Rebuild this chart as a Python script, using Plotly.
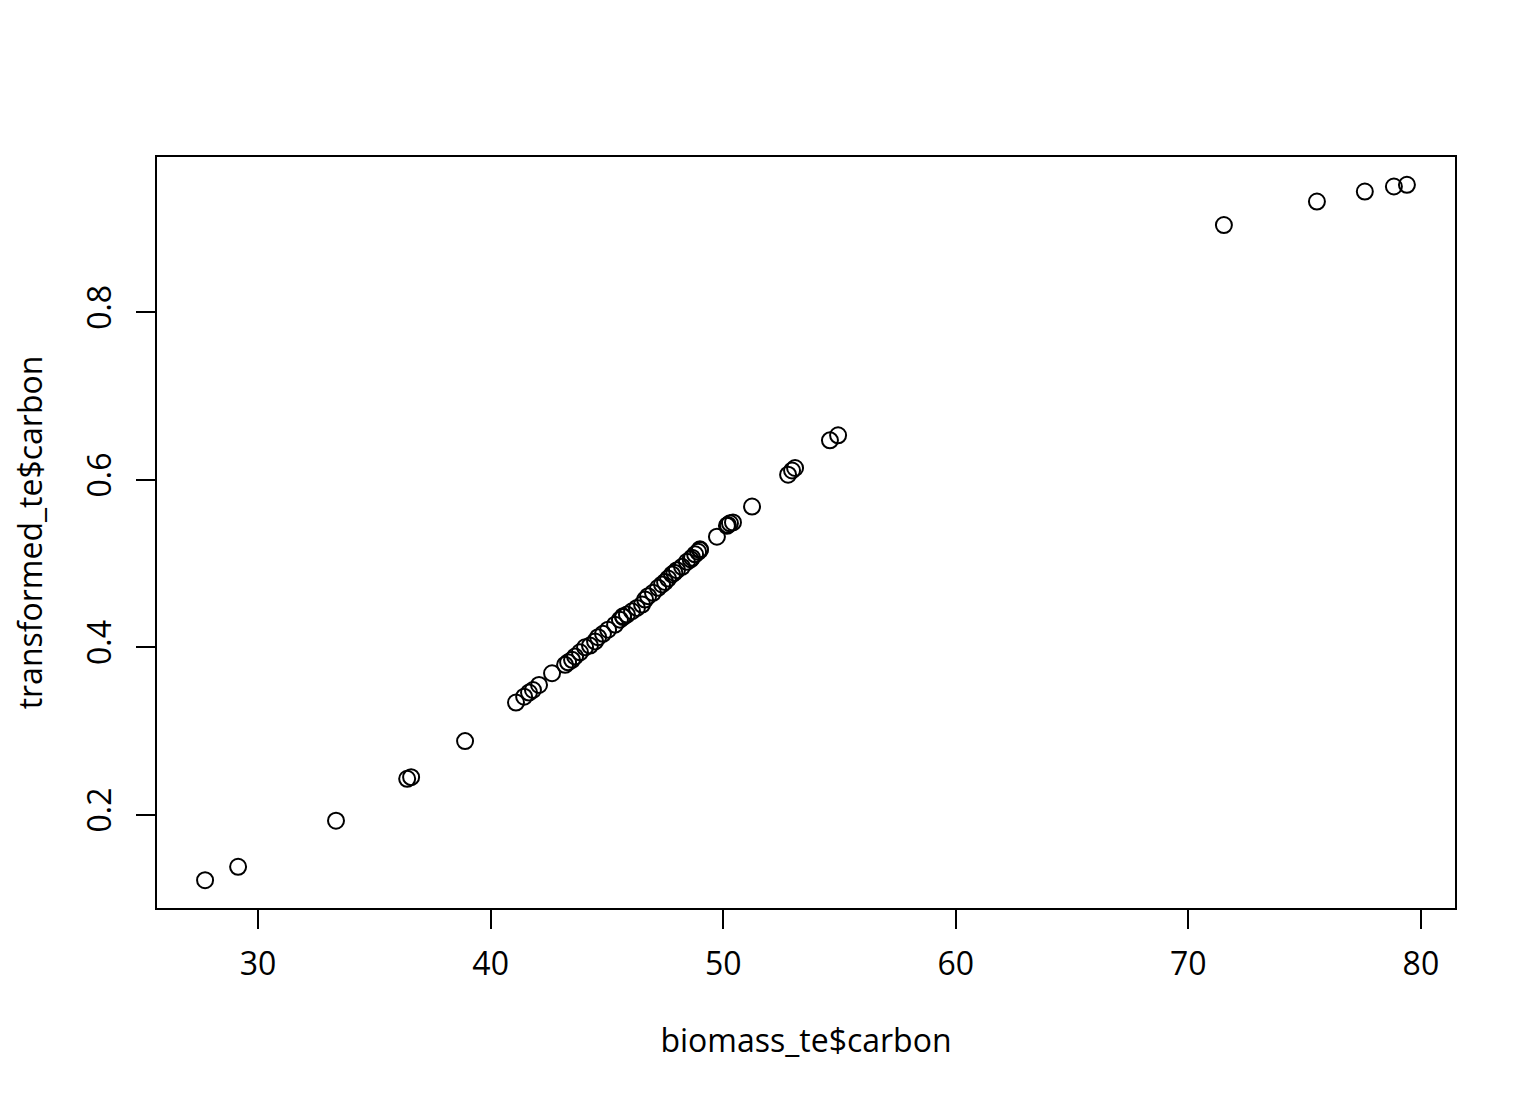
import plotly.graph_objects as go

# values
biomass_carbon = [
    27.72, 29.14, 33.35, 36.41, 36.58, 38.90, 41.09, 41.44, 41.65, 41.82,
    42.08, 42.64, 43.20, 43.33, 43.50, 43.63, 43.84, 44.06, 44.27, 44.49,
    44.62, 44.83, 45.05, 45.35, 45.56, 45.69, 45.86, 46.08, 46.29, 46.51,
    46.64, 46.77, 46.98, 47.20, 47.37, 47.50, 47.63, 47.80, 48.01, 48.23,
    48.44, 48.66, 48.79, 48.92, 49.00, 49.73, 50.16, 50.29, 50.42, 51.24,
    52.79, 52.96, 53.09, 54.59, 54.94, 71.53, 75.53, 77.59, 78.84, 79.40,
    45.70, 47.90, 48.60, 49.00, 50.20,
]
transformed_carbon = [
    0.122, 0.138, 0.193, 0.243, 0.245, 0.288, 0.334, 0.341, 0.346, 0.349,
    0.355, 0.369, 0.379, 0.382, 0.385, 0.389, 0.394, 0.400, 0.402, 0.407,
    0.412, 0.416, 0.421, 0.427, 0.433, 0.437, 0.439, 0.443, 0.447, 0.451,
    0.457, 0.461, 0.465, 0.471, 0.475, 0.478, 0.482, 0.487, 0.492, 0.496,
    0.502, 0.507, 0.511, 0.514, 0.517, 0.532, 0.545, 0.548, 0.549, 0.568,
    0.606, 0.611, 0.614, 0.647, 0.653, 0.904, 0.932, 0.944, 0.950, 0.952,
    0.436, 0.489, 0.505, 0.516, 0.546,
]
x_ticks = [30, 40, 50, 60, 70, 80]
y_ticks = [0.2, 0.4, 0.6, 0.8]

# R-style 4% padding on both axes
def r_range(vals):
    lo, hi = min(vals), max(vals)
    pad = (hi - lo) * 0.04
    return [lo - pad, hi + pad]

fig = go.Figure(go.Scatter(
    x=biomass_carbon, y=transformed_carbon,
    mode='markers',
    marker=dict(symbol='circle-open', size=16, color='black', line=dict(width=2, color='black')),
    hoverinfo='x+y'
))

axis_common = dict(
    showgrid=False, zeroline=False, showline=True, linecolor='black', linewidth=1.5,
    mirror=True, ticks='outside', ticklen=19, tickwidth=1.5, tickcolor='black',
    automargin=False,
    tickfont=dict(family='Open Sans', size=32, color='black'),
)
title_font = dict(family='Open Sans', size=32, color='black')

fig.update_layout(
    width=1536, height=1104,
    plot_bgcolor='white', paper_bgcolor='white',
    showlegend=False,
    margin=dict(l=149, r=89, t=149, b=204),
    xaxis=dict(
        range=r_range(biomass_carbon), tickvals=x_ticks, ticklabelstandoff=8,
        title=dict(text='biomass_te$carbon', font=title_font, standoff=46),
        **axis_common
    ),
    yaxis=dict(
        range=r_range(transformed_carbon), tickvals=y_ticks, tickangle=-90,
        ticklabelstandoff=12,
        title=dict(text='transformed_te$carbon', font=title_font, standoff=52),
        **axis_common
    ),
)

fig.write_html("out.html")
